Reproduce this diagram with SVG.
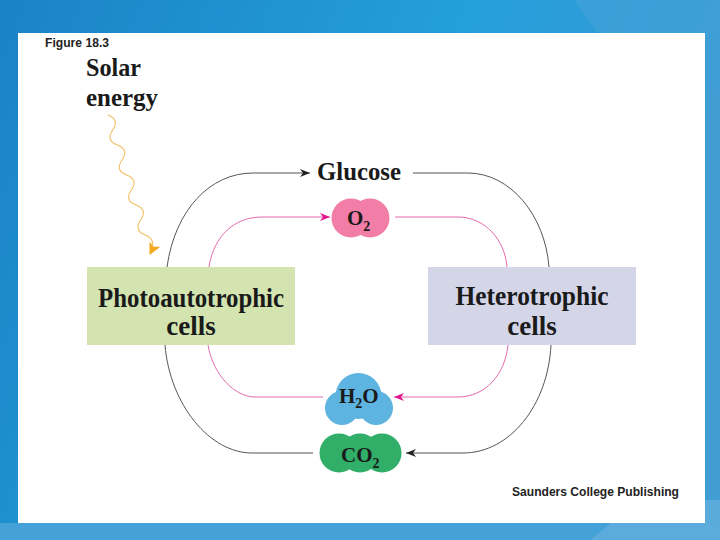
<svg xmlns="http://www.w3.org/2000/svg" width="720" height="540" viewBox="0 0 720 540">
<defs>
<linearGradient id="bg" x1="0" y1="0" x2="1" y2="0.3">
<stop offset="0" stop-color="#1a82c6"/>
<stop offset="0.6" stop-color="#249fdb"/>
<stop offset="1" stop-color="#3898d2"/>
</linearGradient>
<marker id="arrK" markerUnits="userSpaceOnUse" markerWidth="11" markerHeight="8" refX="10" refY="4" orient="auto">
<path d="M0,0 L10,4 L0,8 L3,4 z" fill="#222"/>
</marker>
<marker id="arrP" markerUnits="userSpaceOnUse" markerWidth="11" markerHeight="8" refX="10" refY="4" orient="auto">
<path d="M0,0 L10,4 L0,8 L3,4 z" fill="#e0148c"/>
</marker>
<marker id="arrO" markerUnits="userSpaceOnUse" markerWidth="14" markerHeight="14" refX="11" refY="6" orient="auto">
<path d="M0,0 L12,6 L0,12 L3,6 z" fill="#f2a91e"/>
</marker>
<style>
.serif{font-family:"Liberation Serif","Times New Roman",serif;font-weight:bold;fill:#1a1a1a}
.sans{font-family:"Liberation Sans",Arial,sans-serif;fill:#222}
.k{fill:none;stroke:#555;stroke-width:1}
.p{fill:none;stroke:#e46aae;stroke-width:1}
</style>
</defs>
<rect width="720" height="540" fill="url(#bg)"/>
<polygon points="574,0 720,0 720,540 600,540 640,33 598,33" fill="#4aa3d8" opacity="0.5"/>
<rect x="0" y="523" width="720" height="17" fill="#45a2d8"/>
<polygon points="590,540 720,540 720,500 640,500" fill="#6ab3df" opacity="0.6"/>
<rect x="18" y="33" width="687" height="490" fill="#ffffff"/>

<text class="sans" x="45" y="47" font-size="13" font-weight="bold" textLength="64" lengthAdjust="spacingAndGlyphs">Figure 18.3</text>

<g id="solar">
<text class="serif" x="86" y="76" font-size="26" textLength="55" lengthAdjust="spacingAndGlyphs">Solar</text>
<text class="serif" x="86" y="106" font-size="26" textLength="72" lengthAdjust="spacingAndGlyphs">energy</text>
</g>

<g id="photo">
<rect x="87" y="267" width="208" height="78" fill="#d3e4b1"/>
<text class="serif" x="191" y="307" font-size="27" text-anchor="middle" textLength="186" lengthAdjust="spacingAndGlyphs">Photoautotrophic</text>
<text class="serif" x="191" y="335" font-size="27" text-anchor="middle">cells</text>
</g>

<g id="hetero">
<rect x="428" y="267" width="208" height="78" fill="#d4d6e8"/>
<text class="serif" x="532" y="305" font-size="27" text-anchor="middle" textLength="153" lengthAdjust="spacingAndGlyphs">Heterotrophic</text>
<text class="serif" x="532" y="335" font-size="27" text-anchor="middle">cells</text>
</g>

<g id="glucose">
<text class="serif" x="359" y="180" font-size="26" text-anchor="middle" textLength="84" lengthAdjust="spacingAndGlyphs">Glucose</text>
</g>

<g id="o2">
<circle cx="351" cy="218" r="19.5" fill="#f27da6"/>
<circle cx="370" cy="218" r="19.5" fill="#f27da6"/>
<text class="serif" x="347" y="225" font-size="21">O<tspan font-size="14" dy="6">2</tspan></text>
</g>

<g id="h2o">
<circle cx="358.5" cy="396" r="23" fill="#5db4e1"/>
<circle cx="342" cy="408" r="17" fill="#5db4e1"/>
<circle cx="376" cy="408" r="17" fill="#5db4e1"/>
<text class="serif" x="339" y="403" font-size="21">H<tspan font-size="14" dy="5">2</tspan><tspan dy="-5">O</tspan></text>
</g>

<g id="co2">
<circle cx="339" cy="453" r="19.5" fill="#31ae68"/>
<circle cx="360" cy="453" r="19.5" fill="#31ae68"/>
<circle cx="382" cy="453" r="19.5" fill="#31ae68"/>
<text class="serif" x="341" y="462" font-size="21">CO<tspan font-size="14" dy="6">2</tspan></text>
</g>

<g id="connectors">
<path d="M108,115 Q119.9,119.5 112.67,130 T117.33,145 T122,160 T126.67,175 T131.33,190 T136,205 T140.67,220 T145.33,235 T150,254" fill="none" stroke="#f2bf63" stroke-width="1.1" marker-end="url(#arrO)"/>
<path class="k" d="M167,267 C175,210 210,173 253,173 L310,173" marker-end="url(#arrK)"/>
<path class="k" d="M413,173 L468,173 C510,173 545,215 549,267"/>
<path class="p" d="M209,267 C214,235 235,217 262,217 L330,217" marker-end="url(#arrP)"/>
<path class="p" d="M395,217 L458,217 C485,217 505,240 507,267"/>
<path class="p" d="M508,345 C505,375 485,397 458,397 L394,397" marker-end="url(#arrP)"/>
<path class="k" d="M551,345 C548,405 510,453 463,453 L406,453" marker-end="url(#arrK)"/>
<path class="p" d="M208,345 C213,375 235,397 255,397 L323,397"/>
<path class="k" d="M165,345 C170,405 210,453 252,453 L313,453"/>
</g>

<text class="sans" x="512" y="496" font-size="13" font-weight="bold" textLength="167" lengthAdjust="spacingAndGlyphs">Saunders College Publishing</text>
</svg>
